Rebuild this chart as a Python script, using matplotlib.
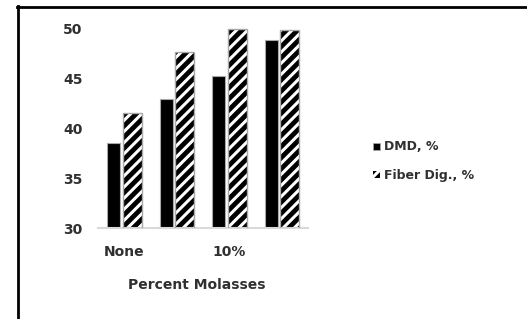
import numpy as np
import matplotlib
matplotlib.use('Agg')
import matplotlib.pyplot as plt
from matplotlib.lines import Line2D
from matplotlib.patches import Patch

# Categories (Excel only labels every other one)
categories = ['None', '5%', '10%', '15%']
shown_labels = ['None', '', '10%', '']

# Series values
dmd = [38.5, 42.9, 45.2, 48.8]
fiber_dig = [41.5, 47.6, 49.9, 49.8]

plt.rcParams['hatch.linewidth'] = 2.2

fig = plt.figure(figsize=(5.27, 3.19), dpi=100)
ax = fig.add_axes([98 / 527, 91 / 319, 210 / 527, 200 / 319])

x = np.arange(len(categories))
ax.bar(x - 0.2, np.array(dmd) - 30, width=0.25, bottom=30,
       color='black', edgecolor='#a8a8a8', linewidth=0.8, zorder=2)
ax.bar(x + 0.15, np.array(fiber_dig) - 30, width=0.36, bottom=30,
       color='black', edgecolor='white', hatch='///', linewidth=0, zorder=2)
ax.bar(x + 0.15, np.array(fiber_dig) - 30, width=0.36, bottom=30,
       color='none', edgecolor='#a8a8a8', linewidth=1.0, zorder=3)

ax.set_xlim(-0.5, 3.5)
ax.set_ylim(30, 50)
ax.set_yticks([30, 35, 40, 45, 50])
ax.set_xticks(x)
ax.set_xticklabels(shown_labels)
ax.tick_params(length=0, labelsize=10, labelcolor='#303030')
ax.tick_params(axis='y', pad=11)
ax.tick_params(axis='x', pad=12)
for lab in ax.get_xticklabels() + ax.get_yticklabels():
    lab.set_fontweight('bold')
for s in ['left', 'right', 'top']:
    ax.spines[s].set_visible(False)
ax.spines['bottom'].set_color('#d9d9d9')
ax.spines['bottom'].set_linewidth(1.5)
ax.set_xlabel('Percent Molasses', fontsize=10, fontweight='bold',
              color='#303030')
ax.xaxis.set_label_coords(0.47, -0.25)

handles = [Patch(facecolor='black', edgecolor='#a8a8a8', linewidth=0.5),
           Patch(facecolor='black', edgecolor='white', hatch='//', linewidth=0)]
leg = fig.legend(handles, ['DMD, %', 'Fiber Dig., %'], loc='center left',
                 bbox_to_anchor=(362 / 527, 1 - 161 / 319), frameon=False,
                 handlelength=0.5, handleheight=0.5, handletextpad=0.4,
                 labelspacing=1.2, prop={'size': 9, 'weight': 'bold'})
for t in leg.get_texts():
    t.set_color('#303030')

# outer frame (right and bottom edges fall outside the image)
fig.add_artist(Line2D([17 / 527, 1], [1 - 7 / 319, 1 - 7 / 319],
                      transform=fig.transFigure, color='black', linewidth=2))
fig.add_artist(Line2D([18 / 527, 18 / 527], [1 - 6 / 319, 0],
                      transform=fig.transFigure, color='black', linewidth=2))

plt.savefig('out.png', dpi=100)
